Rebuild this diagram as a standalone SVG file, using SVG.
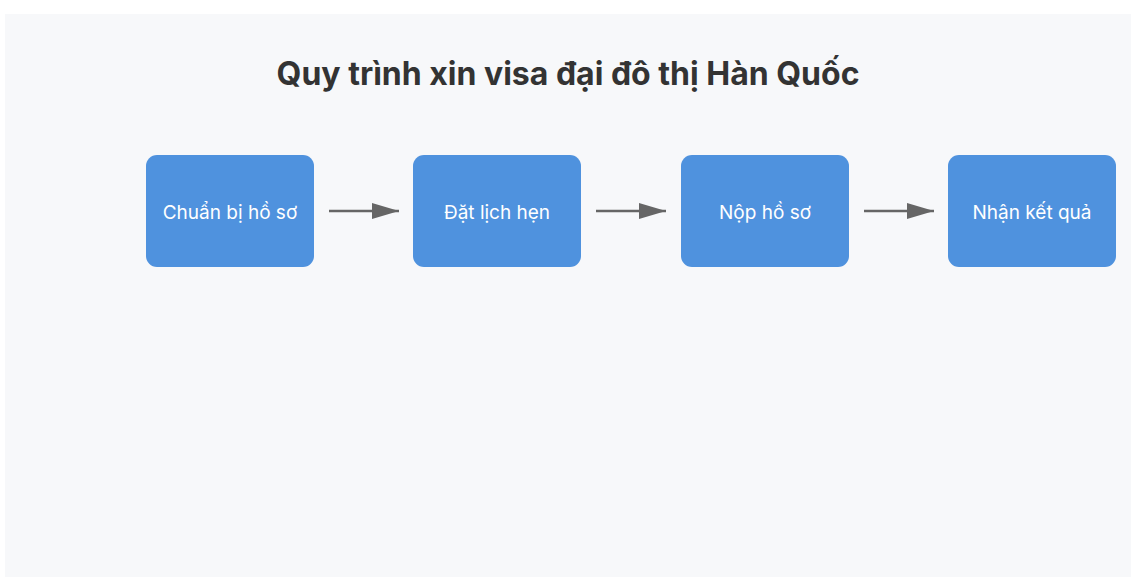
<svg xmlns="http://www.w3.org/2000/svg" width="1144" height="586" viewBox="0 0 1144 586">
<style>
.node rect{fill:#4f92de;}
.node text{fill:#ffffff;font-family:Inter,"Liberation Sans",Arial,sans-serif;font-size:19px;text-anchor:middle;dominant-baseline:central;}
.edge{stroke:#666666;stroke-width:2.5;fill:none;}
.title{fill:#333333;font-family:Inter,"Liberation Sans",Arial,sans-serif;font-size:32px;font-weight:bold;text-anchor:middle;}
</style>
<defs>
<marker id="arrow" markerUnits="userSpaceOnUse" markerWidth="27" markerHeight="18" refX="27" refY="9" orient="auto">
<path d="M0,1 L27,9 L0,17 Z" fill="#666666"/>
</marker>
</defs>
<rect x="0" y="0" width="1144" height="586" fill="#ffffff"/>
<rect x="5" y="14" width="1126" height="563" fill="#f7f8fa"/>
<text class="title" x="568" y="85">Quy trình xin visa đại đô thị Hàn Quốc</text>
<g id="connectors">
<line class="edge" x1="329" y1="211" x2="399" y2="211" marker-end="url(#arrow)"/>
<line class="edge" x1="596" y1="211" x2="666" y2="211" marker-end="url(#arrow)"/>
<line class="edge" x1="864" y1="211" x2="934" y2="211" marker-end="url(#arrow)"/>
</g>
<g id="node1" class="node"><rect x="146" y="155" width="168" height="112" rx="11"/><text x="230" y="212">Chuẩn bị hồ sơ</text></g>
<g id="node2" class="node"><rect x="413" y="155" width="168" height="112" rx="11"/><text x="497" y="212">Đặt lịch hẹn</text></g>
<g id="node3" class="node"><rect x="681" y="155" width="168" height="112" rx="11"/><text x="765" y="212">Nộp hồ sơ</text></g>
<g id="node4" class="node"><rect x="948" y="155" width="168" height="112" rx="11"/><text x="1032" y="212">Nhận kết quả</text></g>
</svg>
